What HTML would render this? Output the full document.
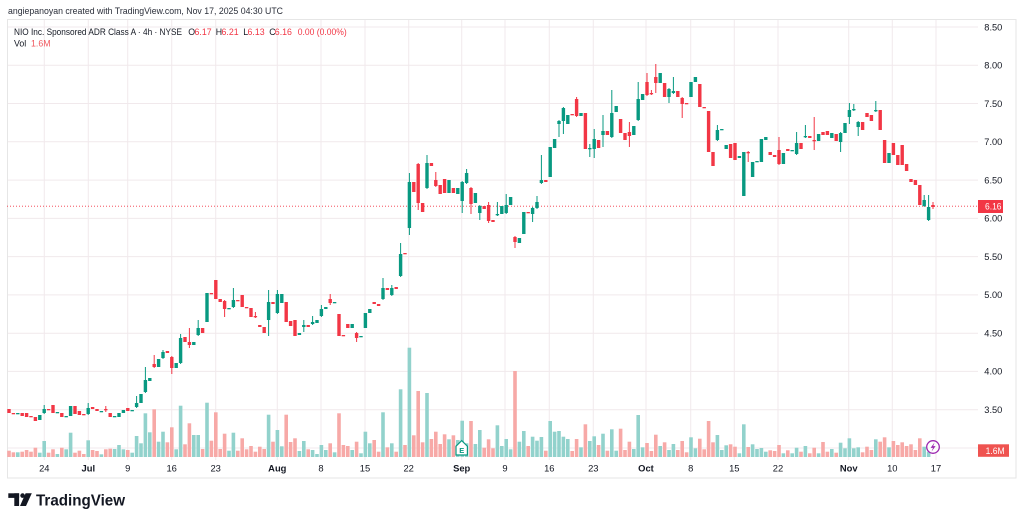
<!DOCTYPE html>
<html><head><meta charset="utf-8"><style>
html,body{margin:0;padding:0;background:#fff;width:1024px;height:522px;overflow:hidden}
svg{display:block;font-family:"Liberation Sans",Arial,sans-serif}
</style></head><body>
<svg id="s" width="1024" height="522" viewBox="0 0 1024 522" xmlns="http://www.w3.org/2000/svg">
<rect width="1024" height="522" fill="#fff"/>
<text x="8" y="14" font-size="9.5" fill="#2a2e39" textLength="275" lengthAdjust="spacingAndGlyphs">angiepanoyan created with TradingView.com, Nov 17, 2025 04:30 UTC</text>
<g id="grid" stroke="#f1e9ec" stroke-width="1"></g>
<rect x="7.5" y="19.5" width="1008.5" height="458.5" fill="none" stroke="#e6e6e6"/>
<g id="vol"></g>
<line x1="7" x2="978" y1="206.2" y2="206.2" stroke="#f23645" stroke-width="0.8" stroke-dasharray="1,2"/>
<g id="cdl"></g>
<g font-size="8.8" fill="#131722">
<text x="14" y="35" textLength="168" lengthAdjust="spacingAndGlyphs">NIO Inc. Sponsored ADR Class A · 4h · NYSE</text>
<text x="188.3" y="35">O</text><text x="194.5" y="35" fill="#f23645">6.17</text>
<text x="215.8" y="35">H</text><text x="221.5" y="35" fill="#f23645">6.21</text>
<text x="243.3" y="35">L</text><text x="247.5" y="35" fill="#f23645">6.13</text>
<text x="269.3" y="35">C</text><text x="274.8" y="35" fill="#f23645">6.16</text>
<text x="297.7" y="35" fill="#f23645" textLength="49" lengthAdjust="spacingAndGlyphs">0.00 (0.00%)</text>
<text x="14" y="46.5">Vol</text><text x="31" y="46.5" fill="#f0595f">1.6M</text>
</g>
<g id="plab" font-size="9.4" fill="#131722"></g>
<rect x="978" y="200" width="25" height="13" fill="#f23645"/>
<text x="985" y="209.6" font-size="9.4" fill="#fff" textLength="16.5" lengthAdjust="spacingAndGlyphs">6.16</text>
<rect x="978" y="444.3" width="31" height="12.5" fill="#ef5350"/>
<text x="985.6" y="453.8" font-size="9.4" fill="#fff" textLength="19" lengthAdjust="spacingAndGlyphs">1.6M</text>
<g id="dlab" font-size="9.4" fill="#131722" text-anchor="middle"></g>
<path d="M456,446.2 L461.7,440.6 L467.4,446.2 L467.4,455 L456,455 Z" fill="#fff" stroke="#089981" stroke-width="1.2"/>
<text x="461.7" y="453.2" font-size="7.5" font-weight="bold" fill="#089981" text-anchor="middle">E</text>
<circle cx="933" cy="447" r="6.3" fill="#fff" fill-opacity="0.6" stroke="#9c27b0" stroke-width="1.3"/>
<polygon points="934.6,442.4 930.6,447.9 933,447.9 931.5,451.6 935.6,446.1 933.2,446.1" fill="#9c27b0"/>
<g fill="#131722">
<rect x="8.3" y="493.3" width="10.8" height="4.6"/>
<rect x="14.3" y="493.3" width="4.8" height="12.7"/>
<circle cx="22.6" cy="495.6" r="2.3"/>
<polygon points="25.6,493.3 31.8,493.3 26,506 20,506"/>
</g>
<text x="36" y="505.5" font-size="16" font-weight="bold" fill="#131722" textLength="89" lengthAdjust="spacingAndGlyphs">TradingView</text>
</svg>
<script>
(function(){
var NS="http://www.w3.org/2000/svg";
function el(p,tag,attrs,txt){var e=document.createElementNS(NS,tag);for(var k in attrs)e.setAttribute(k,attrs[k]);if(txt!==undefined)e.textContent=txt;p.appendChild(e);return e;}
var grid=document.getElementById('grid');
var plab=document.getElementById('plab');
var prices=['8.50','8.00','7.50','7.00','6.50','6.00','5.50','5.00','4.50','4.00','3.50','3.00'];
for(var j=0;j<prices.length;j++){
  var p=parseFloat(prices[j]);var y=27+(8.5-p)*76.54;
  el(grid,'line',{x1:7,x2:978,y1:y.toFixed(1),y2:y.toFixed(1)});
  if(p>=3.5) el(plab,'text',{x:984.3,y:(y+3.3).toFixed(1),textLength:18,lengthAdjust:'spacingAndGlyphs'},prices[j]);
}
var dates=[[44.3,'24',0],[88.3,'Jul',1],[127.7,'9',0],[171.7,'16',0],[215.7,'23',0],[277.3,'Aug',1],[321,'8',0],[365,'15',0],[408.7,'22',0],[461.7,'Sep',1],[505,'9',0],[549.3,'16',0],[593.3,'23',0],[646,'Oct',1],[690.7,'8',0],[734.3,'15',0],[778,'22',0],[848.7,'Nov',1],[892.3,'10',0],[936,'17',0]];
var dlab=document.getElementById('dlab');
for(var j=0;j<dates.length;j++){
  var d=dates[j];
  el(grid,'line',{x1:d[0],x2:d[0],y1:20,y2:460});
  var a={x:d[0],y:471.5};if(d[2])a['font-weight']='bold';
  el(dlab,'text',a,d[1]);
}
var C=[[409,413,0],[413,414,0],[413,414,1],[413,416,0],[413,417,0],[416,417,0],[417,421,0],[415,420,1],[409,413,1,405,414],[409,410,0],
[405,413,0],[412,413,1],[413,417,0],[416,417,1],[406,416,1],[406,414,0],[411,415,0],[414,415,0],[408,414,1,403,415],[407,409,0],
[409,411,0],[411,412,1],[409,410,0,406,412],[413,417,0],[416,417,1],[413,417,1],[410,413,1],[408,411,0],[410,411,1],[403,407,1,396,408],
[394,403,1],[380,392,1,367,393],[378,381,1],[364,367,0,355,368],[359,367,1],[352,358,1,350,359],[351,353,0],[357,368,0,356,374],[363,368,1],[338,363,1,334,364],
[337,342,0],[342,345,0,328,348],[342,345,1],[328,335,1,320,336],[328,333,0],[293,322,1],[293,294,0],[280,299,0],[299,302,0],[301,309,0,300,317],
[308,309,1],[300,307,1,288,308],[300,301,0],[295,307,0],[307,308,0],[308,317,0],[316,317,0,312,318],[325,327,0],[327,333,0],[302,320,1,290,336],
[302,304,0],[294,313,1,290,314],[294,303,1],[302,322,0],[321,326,0],[320,336,0],[333,335,1],[325,327,1,320,332],[325,327,0],[322,324,1,316,325],
[320,323,1],[309,316,1,305,317],[307,309,1],[299,303,0,294,305],[302,303,1],[314,336,0],[335,336,0],[324,328,0],[324,328,1],[333,338,0,332,342],
[336,337,1],[313,328,1],[309,313,1],[302,304,0],[304,306,0],[288,299,1,278,300],[288,290,0],[288,295,1,285,296],[287,289,0],[254,276,1,243,277],
[253,254,0],[182,228,1,173,235],[182,192,0],[164,203,0,163,210],[203,212,0],[163,188,1,155,189],[163,166,0],[180,186,0,172,187],[185,194,0],[179,193,0],
[180,193,1],[188,193,0],[188,194,1],[182,201,1,181,213],[173,183,1,169,184],[188,204,0,187,214],[193,203,1],[206,213,1,205,220],[206,209,0],[205,221,0,202,223],
[220,222,0],[214,215,1,202,216],[206,214,1],[205,213,1,194,214],[197,205,1],[237,242,0,236,248],[238,243,1],[212,234,1],[212,213,0],[208,214,1,207,222],
[202,208,1,196,209],[180,183,1,155,184],[180,182,0],[147,177,1],[139,148,1],[121,124,1,120,137],[108,121,1,107,134],[115,124,1],[114,115,0],[99,116,0,97,117],
[113,116,1],[113,149,0],[148,149,1,144,157],[139,149,1,129,158],[140,148,0],[131,135,1,115,147],[131,135,0],[113,137,1,90,138],[106,112,1],[119,133,0],
[133,140,0],[132,136,0,122,147],[126,135,1],[99,120,1,82,121],[94,100,1],[82,95,0,73,96],[93,94,0,90,95],[77,83,0,64,93],[73,83,1],[83,97,0],
[89,97,1,88,103],[91,93,1,77,94],[91,97,0],[98,104,0,97,118],[103,104,0],[82,97,1],[77,82,1],[84,107,0],[107,108,0],[111,152,0],
[152,166,0],[130,140,1,125,141],[129,130,1],[145,149,1],[144,158,0],[143,160,0],[156,158,1],[152,196,1],[152,153,0,151,162],[162,177,1],
[161,162,1],[139,162,1],[137,140,1],[152,155,0],[155,157,0],[150,164,0,137,165],[153,164,1],[149,151,0],[150,151,1],[143,154,1,132,155],
[143,149,0],[136,137,1,125,138],[136,138,0],[140,141,0,117,150],[134,141,1],[132,135,0],[131,135,0],[133,138,1],[134,141,0],[133,142,1,132,152],
[123,133,1],[110,117,1,103,124],[109,110,1,104,111],[122,127,1,121,136],[122,130,0],[113,117,0],[115,121,0],[110,111,1,101,112],[110,130,0],[140,163,0],
[153,163,1],[143,155,0],[155,165,0],[145,165,0],[164,171,0],[179,182,0],[180,185,0],[185,205,0],[200,206,1,195,207],[207,220,1,195,221],
[205,207,0,202,209]];
var V=[450.7,452.3,452.3,451.7,450,451.7,447.7,452.7,441,452.7,
449.3,454,447.7,449.3,432.7,452.7,450.7,454,440.3,450,
451,454.3,449.3,448.7,449,445,449.3,450,452.7,436,
443.3,413.3,432.3,409.3,441.7,431.7,442.3,427.3,449.3,405.7,
444.3,423.3,435,435,449,402.7,440.7,412.3,449,433.7,
450.7,432.7,450.7,438.3,449.3,446,451.7,446.7,449,414.7,
441.7,430,446.3,414.7,442,438.3,451,441,449.3,450,
454,445,450,443.3,452.3,413.3,445,446,450,441.7,
453.3,431.7,443.3,440,451.7,412.3,447.3,443.3,451.7,389.3,
445,347.7,435.3,391,442.3,393,439,431.7,444,434.3,
439.3,435.3,440,420.7,443.3,421,444,430,447.7,439.3,
448.3,425.3,446,439,449.3,371,441.7,431,446,436.7,
440.7,437,450.7,421,431.7,431,436.7,439,451,439,
447.3,424.3,441,436.3,445,433.7,450.7,429.3,450.7,428.7,
450,441.7,449,415,447.3,443,451,434.7,446,442.3,
450,444,450,441,452.3,437.3,448.3,438.7,449.3,421,
442.3,435,450,445.3,444.3,446.7,453.3,424.3,447,444.3,
449,448,451.7,450.3,451,445,453.3,450.3,453.3,447.7,
451.7,446,453.3,447.7,453.3,442,451.7,449,452.7,442.7,
448.3,438.3,448.3,447.3,452.3,446.7,450,439.3,441.7,437.3,
447.3,441,445,442.3,446,444.3,450,438.3,446.7,451.7,
454];
var vol=document.getElementById('vol'),cdl=document.getElementById('cdl');
var G='#089981',R='#f23645',GV='#92d2cc',RV='#f7a9a7';
for(var i=0;i<C.length;i++){
  var x=9+4.4*i,c=C[i];
  var vy=V[i]!==undefined?V[i]:452;
  if(i<210) el(vol,'rect',{x:(x-1.8).toFixed(2),y:vy,width:3.6,height:(457-vy).toFixed(1),fill:c[2]?GV:RV});
}
for(var i=0;i<C.length;i++){
  var x=9+4.4*i,c=C[i],col=c[2]?G:R;
  var t=c[0],b=c[1],h=c.length>3?c[3]:t,l=c.length>3?c[4]:b;
  if(h<t||l>b) el(cdl,'line',{x1:x.toFixed(2),x2:x.toFixed(2),y1:h,y2:l,stroke:col,'stroke-width':1});
  el(cdl,'rect',{x:(x-1.7).toFixed(2),y:t,width:3.4,height:Math.max(b-t,1.3),fill:col});
}
})();
</script>
</body></html>
